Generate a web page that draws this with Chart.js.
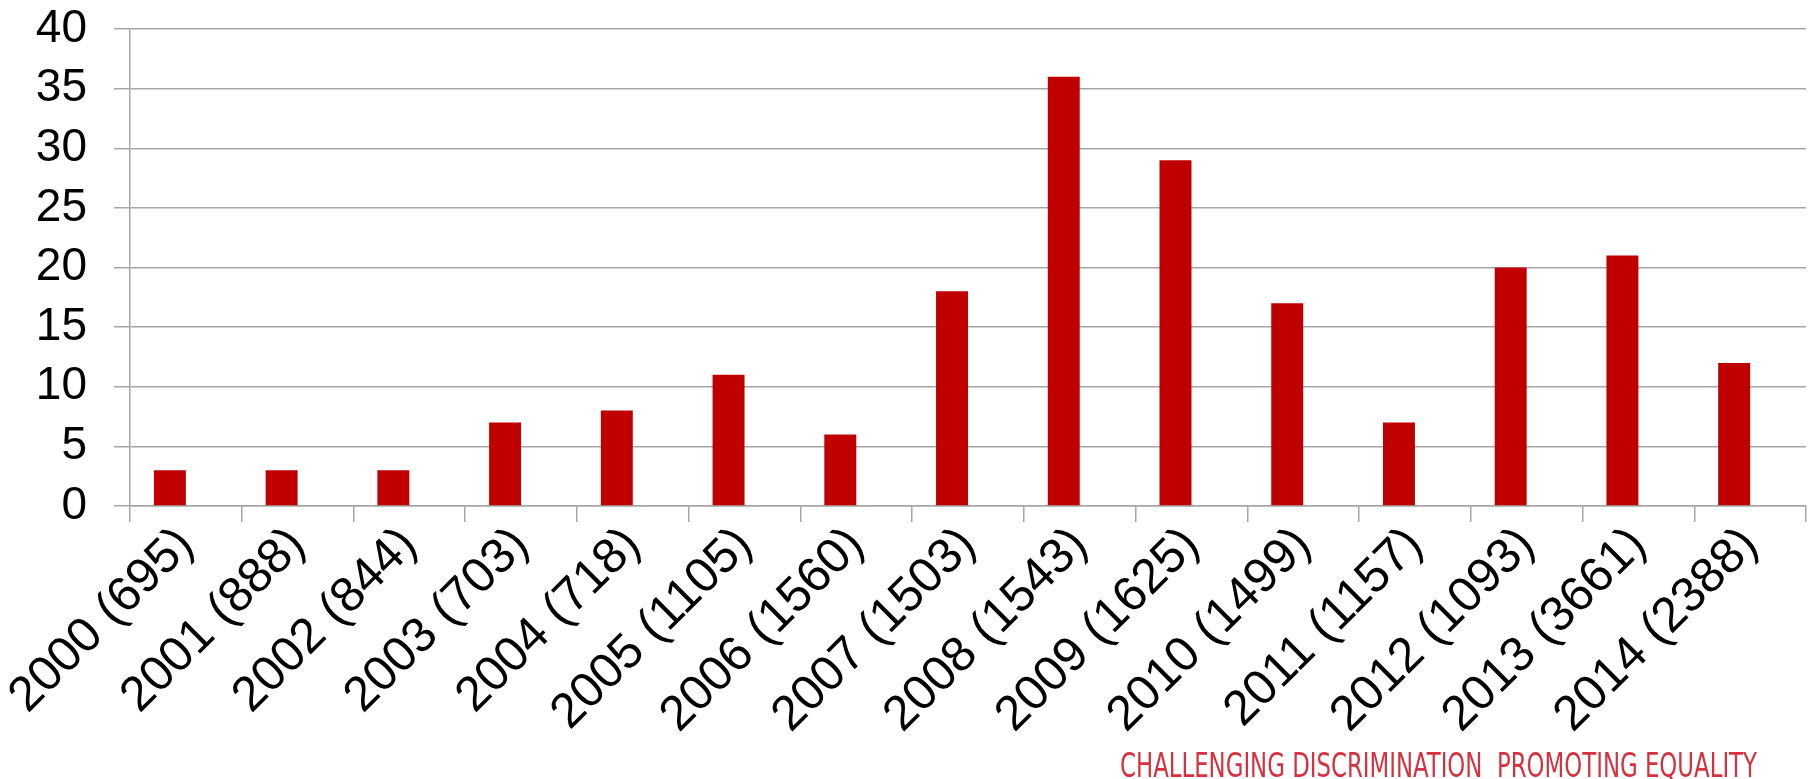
<!DOCTYPE html>
<html>
<head>
<meta charset="utf-8">
<script src="https://cdn.jsdelivr.net/npm/chart.js@4.4.1/dist/chart.umd.min.js"></script>
<style>
  html, body { margin: 0; padding: 0; background: #fff; }
  #wrap { width: 1812px; height: 779px; }
</style>
</head>
<body>
<div id="wrap"><canvas id="casesChart" width="1812" height="779"></canvas></div>
<script>
// Años (entre paréntesis el total de casos del año) y número de casos
const categories = [
    '2000 (695)', '2001 (888)', '2002 (844)', '2003 (703)', '2004 (718)',
    '2005 (1105)', '2006 (1560)', '2007 (1503)', '2008 (1543)', '2009 (1625)',
    '2010 (1499)', '2011 (1157)', '2012 (1093)', '2013 (3661)', '2014 (2388)'
];
const cases = [3, 3, 3, 7, 8, 11, 6, 18, 36, 29, 17, 7, 20, 21, 12];
const yTicks = [0, 5, 10, 15, 20, 25, 30, 35, 40];
const footerText = 'CHALLENGING DISCRIMINATION  PROMOTING EQUALITY';

const gridGray = '#a6a6a6';

// Pie de página en rojo
const footerPlugin = {
    id: 'footer',
    afterDraw(chart) {
        const c = chart.ctx;
        c.save();
        c.fillStyle = '#d7303f';
        c.font = '33px "Liberation Sans Narrow", "DejaVu Sans Condensed", sans-serif';
        c.textAlign = 'left';
        c.textBaseline = 'alphabetic';
        c.fillText(footerText, 1120, 777, 637);
        c.restore();
    }
};

const ctx = document.getElementById('casesChart').getContext('2d');
new Chart(ctx, {
    type: 'bar',
    data: {
        labels: categories,
        datasets: [
            {
                label: 'Casos',
                data: cases,
                backgroundColor: '#c00000',
                borderWidth: 0,
                barPercentage: 1,
                categoryPercentage: 0.572
            },
            {
                // serie vacía: deja la barra a la izquierda del centro, como el original
                label: '',
                data: [],
                barPercentage: 1,
                categoryPercentage: 0.572
            }
        ]
    },
    options: {
        responsive: false,
        devicePixelRatio: 1,
        animation: false,
        layout: { padding: { top: 29, right: 6, bottom: 0, left: 0 } },
        scales: {
            x: {
                grid: {
                    display: true,
                    drawOnChartArea: false,
                    drawTicks: true,
                    tickLength: 16,
                    color: gridGray,
                    lineWidth: 1.5
                },
                border: { display: true, color: gridGray, width: 1.5 },
                ticks: {
                    autoSkip: false,
                    maxRotation: 45,
                    minRotation: 45,
                    padding: -6,
                    color: '#000',
                    font: { family: '"Liberation Sans", Arial, sans-serif', size: 49 }
                },
                afterFit(scale) { scale.height = 273; }
            },
            y: {
                min: 0,
                max: 40,
                afterBuildTicks(scale) { scale.ticks = yTicks.map(v => ({ value: v })); },
                grid: {
                    color: gridGray,
                    lineWidth: 1.5,
                    drawTicks: true,
                    tickLength: 16
                },
                border: { display: true, color: gridGray, width: 1.5 },
                ticks: {
                    autoSkip: false,
                    padding: 27,
                    color: '#000',
                    font: { family: '"Liberation Sans", Arial, sans-serif', size: 46 }
                },
                afterFit(scale) {
                    scale.width = 130;
                    // el padding de las etiquetas no debe empujar el área hacia abajo
                    scale.paddingTop = 0;
                    scale.paddingBottom = 0;
                }
            }
        },
        plugins: {
            legend: { display: false },
            title: { display: false },
            tooltip: { enabled: false }
        }
    },
    plugins: [footerPlugin]
});
</script>
</body>
</html>
